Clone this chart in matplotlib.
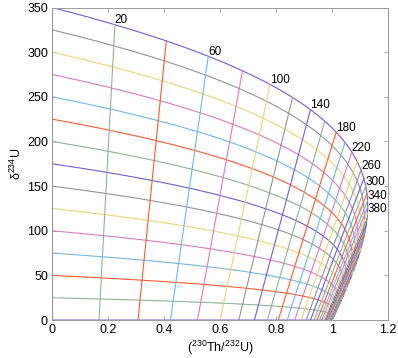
import matplotlib
matplotlib.use("Agg")
import matplotlib.pyplot as plt
import numpy as np

# decay constants (per ka)
lam230 = 9.1577e-3
lam234 = 2.8263e-3

# initial delta234U of each evolution curve (permil)
initial_d234 = [350, 325, 300, 275, 250, 225, 200, 175, 150, 125, 100, 75, 50, 25, 0]
# isochron ages (ka)
iso_ages = list(range(0, 1001, 20))
# isochrons that carry a label
label_ages = [20, 60, 100, 140, 180, 220, 260, 300, 340, 380]
t_end = 1000

colors = ['#6f5fd0', '#949494', '#e6d67a', '#d77cc0', '#72b6df', '#ff5b33', '#8db295']


def evolve(t, d0):
    dm = d0 * np.exp(-lam234 * t)
    th = (1 - np.exp(-lam230 * t)
          + dm / 1000 * lam230 / (lam230 - lam234) * (1 - np.exp(-(lam230 - lam234) * t)))
    return th, dm


plt.rcParams['font.family'] = ['Liberation Sans', 'DejaVu Sans']
plt.rcParams['mathtext.fontset'] = 'custom'
plt.rcParams['mathtext.rm'] = 'Liberation Sans'
plt.rcParams['mathtext.it'] = 'Liberation Sans'
fig = plt.figure(figsize=(3.98, 3.58), dpi=100)
ax = fig.add_axes([0.131, 0.106, 0.844, 0.873])

# constant initial delta234U curves
t = np.linspace(0, t_end, 2000)
for k, d0 in enumerate(initial_d234):
    x, y = evolve(t, d0)
    ax.plot(x, y, color=colors[k % 7], lw=0.8)

# isochrons
d_grid = np.linspace(0, 350, 200)
for i, age in enumerate(iso_ages):
    x, y = evolve(age, d_grid)
    ax.plot(x, y, color=colors[(-i) % 7], lw=0.8)

for age in label_ages:
    x, y = evolve(age, 350)
    ax.text(x, y - 2, str(age), ha='left', va='bottom', fontsize=8.5)

ax.set_xlim(0, 1.2)
ax.set_ylim(0, 350)
ax.set_xticks([0, 0.2, 0.4, 0.6, 0.8, 1.0, 1.2])
ax.set_xticklabels(['0', '0.2', '0.4', '0.6', '0.8', '1', '1.2'])
ax.set_yticks(range(0, 351, 50))
ax.tick_params(direction='in', top=True, right=True, length=3, width=0.6,
               color='#999999', labelsize=9, pad=3)
for s in ax.spines.values():
    s.set_color('#999999')
    s.set_linewidth(0.7)

ax.set_xlabel(r'($^{\mathrm{230}}$Th/$^{\mathrm{232}}$U)', fontsize=9, labelpad=2)
ax.set_ylabel('δ' + r'$^{\mathrm{234}}$' + 'U', fontsize=9, labelpad=2)

fig.savefig('out.png', dpi=100)
